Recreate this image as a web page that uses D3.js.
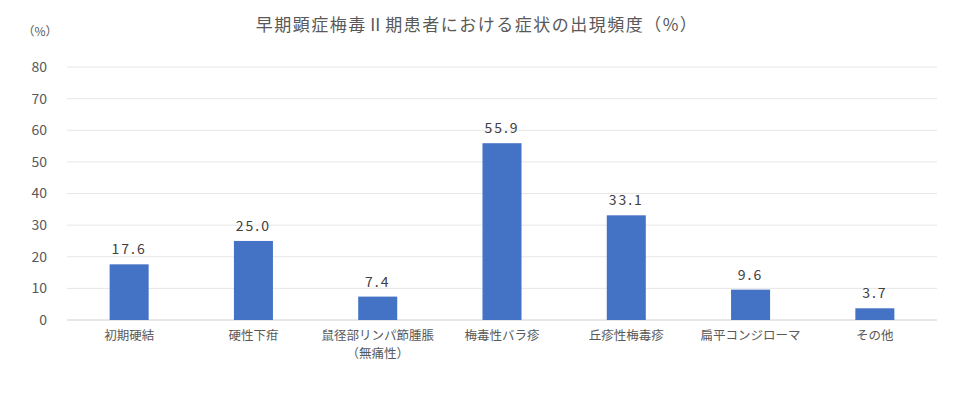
<!DOCTYPE html>
<html>
<head>
<meta charset="utf-8">
<script src="https://cdn.jsdelivr.net/npm/d3@7"></script>
<style>
  body { margin: 0; background: #fff; }
  text { font-family: "Noto Sans CJK JP", sans-serif; fill: #595959; }
</style>
</head>
<body>
<div id="chart"></div>
<script>
var categories = ['初期硬結', '硬性下疳', '鼠径部リンパ節腫脹\n（無痛性）', '梅毒性バラ疹', '丘疹性梅毒疹', '扁平コンジローマ', 'その他'];
var values = [17.6, 25.0, 7.4, 55.9, 33.1, 9.6, 3.7];
var yTicks = [0, 10, 20, 30, 40, 50, 60, 70, 80];

var width = 954, height = 410;
var margin = { top: 67, right: 17, bottom: 90, left: 67 };

var svg = d3.select('#chart').append('svg')
  .attr('width', width).attr('height', height);

var x = d3.scaleBand().domain(categories)
  .range([margin.left, width - margin.right]).paddingInner(0.686).paddingOuter(0.343);
var y = d3.scaleLinear().domain([0, 80]).range([height - margin.bottom, margin.top]);

// gridlines
svg.append('g').selectAll('line').data(yTicks).join('line')
  .attr('x1', margin.left).attr('x2', width - margin.right)
  .attr('y1', function (d) { return y(d); }).attr('y2', function (d) { return y(d); })
  .attr('stroke', function (d) { return d === 0 ? '#d0d0d0' : '#e6e6e6'; })
  .attr('stroke-width', 1);

// y axis labels
var yAxis = svg.append('g').attr('transform', 'translate(' + (margin.left - 20) + ',0)')
  .call(d3.axisLeft(y).tickValues(yTicks).tickSize(0).tickPadding(0));
yAxis.select('.domain').remove();
yAxis.selectAll('text').style('font-size', '14px').style('fill', '#595959')
  .style('font-family', '"Noto Sans CJK JP", sans-serif');

// bars
svg.append('g').selectAll('rect').data(values).join('rect')
  .attr('x', function (d, i) { return x(categories[i]); })
  .attr('y', function (d) { return y(d); })
  .attr('width', x.bandwidth())
  .attr('height', function (d) { return y(0) - y(d); })
  .attr('fill', '#4472C4');

// data labels
svg.append('g').selectAll('text').data(values).join('text')
  .attr('x', function (d, i) { return x(categories[i]) + x.bandwidth() / 2; })
  .attr('y', function (d) { return y(d) - 10; })
  .attr('text-anchor', 'middle')
  .style('font-size', '14px').style('letter-spacing', '2px').style('fill', '#404040')
  .text(function (d) { return d.toFixed(1); });

// category labels (one text per line)
var labelLines = [];
categories.forEach(function (c) {
  c.split('\n').forEach(function (line, i) {
    labelLines.push({ cat: c, line: line, row: i });
  });
});
svg.append('g').selectAll('text').data(labelLines).join('text')
  .attr('x', function (d) { return x(d.cat) + x.bandwidth() / 2; })
  .attr('y', function (d) { return y(0) + 20 + d.row * 18; })
  .attr('text-anchor', 'middle')
  .style('font-size', '12.5px')
  .text(function (d) { return d.line; });

// title
svg.append('text').attr('x', 477).attr('y', 31).attr('text-anchor', 'middle')
  .style('font-size', '17px').style('letter-spacing', '1.5px')
  .text('早期顕症梅毒Ⅱ期患者における症状の出現頻度（%）');

// unit
svg.append('text').attr('x', 40).attr('y', 36).attr('text-anchor', 'middle')
  .style('font-size', '12px').text('（%）');
</script>
</body>
</html>
